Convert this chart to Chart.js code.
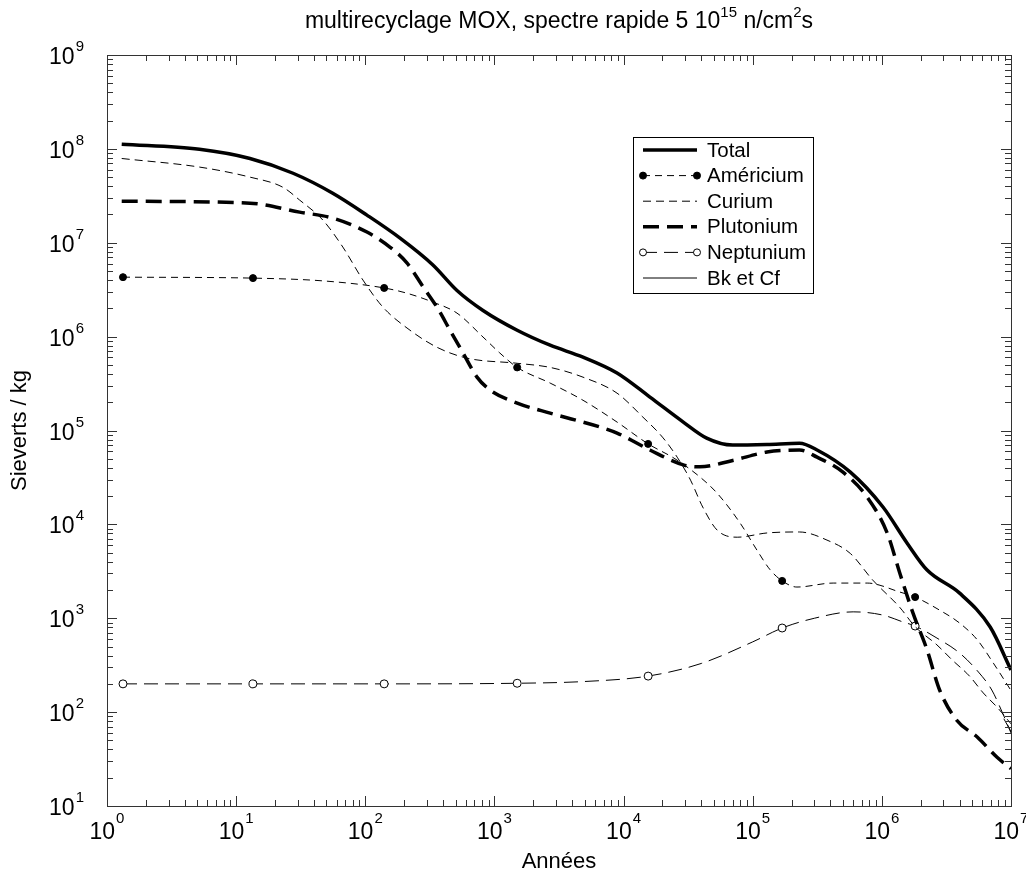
<!DOCTYPE html>
<html>
<head>
<meta charset="utf-8">
<script src="https://cdn.jsdelivr.net/npm/chart.js@4.4.1/dist/chart.umd.min.js"></script>
<style>
  html, body { margin: 0; padding: 0; background: #fff; }
  #wrap { position: relative; width: 1026px; height: 878px; }
</style>
</head>
<body>
<div id="wrap"><canvas id="chart"></canvas></div>
<script>
// values: years -> Sieverts / kg
const totalYears = [1.3, 5.2, 12.8, 27.6, 56, 103, 186, 334, 513, 816, 1500, 2700, 4850, 8900, 16000, 29000, 44000, 70000, 129000, 230000, 315000, 570000, 1020000, 1570000, 2240000, 4000000, 6900000, 1e7];
const totalSv = [1.12e8, 9.9e7, 7.9e7, 5.5e7, 3.37e7, 1.97e7, 1.12e7, 5.8e6, 3.1e6, 1.9e6, 1.17e6, 8.1e5, 6.05e5, 4.1e5, 2.27e5, 1.23e5, 8.3e4, 7.0e4, 7.1e4, 7.3e4, 6.2e4, 3.6e4, 1.53e4, 6.3e3, 3.26e3, 1.85e3, 806, 281];

const amYears = [1.33, 13.5, 50, 140, 210, 334, 513, 816, 1100, 1500, 2700, 4850, 8900, 15500, 25000, 39000, 53000, 80000, 108000, 136000, 169000, 220000, 420000, 770000, 1380000, 1810000, 2800000, 4000000, 5500000, 7300000, 1e7];
const amSv = [4.3e6, 4.2e6, 3.9e6, 3.3e6, 2.9e6, 2.33e6, 1.78e6, 9.9e5, 6.7e5, 4.7e5, 3.2e5, 2.1e5, 1.23e5, 7.2e4, 5e4, 3.2e4, 2.15e4, 1.03e4, 5.3e3, 3.3e3, 2.5e3, 2.15e3, 2.37e3, 2.37e3, 1.9e3, 1.68e3, 1.22e3, 889, 586, 333, 170];

const cmYears = [1.3, 5.2, 12.8, 23, 31, 47, 67, 96, 137, 222, 359, 614, 1500, 2700, 4850, 8900, 14100, 20000, 26000, 33000, 41000, 53000, 76000, 129000, 230000, 376000, 570000, 850000, 1380000, 1800000, 2670000, 3500000, 4800000, 6100000, 7800000, 1e7];
const cmSv = [7.9e7, 6.4e7, 5.0e7, 3.9e7, 2.85e7, 1.74e7, 9.0e6, 4.0e6, 2.06e6, 1.17e6, 7.7e5, 5.9e5, 5.2e5, 4.7e5, 3.7e5, 2.5e5, 1.39e5, 8.5e4, 5.2e4, 2.96e4, 1.53e4, 8.7e3, 7.3e3, 8.1e3, 8.3e3, 6.8e3, 4.9e3, 2.55e3, 1.3e3, 820, 520, 360, 240, 160, 113, 75];

const puYears = [1.3, 12.8, 31, 56, 103, 155, 210, 280, 359, 453, 571, 733, 925, 1500, 2700, 6560, 8900, 16000, 29000, 39000, 70000, 129000, 230000, 315000, 500000, 770000, 1100000, 1380000, 1740000, 2240000, 2800000, 3800000, 5500000, 7800000, 1e7];
const puSv = [2.77e7, 2.64e7, 2.12e7, 1.83e7, 1.3e7, 9.0e6, 6.1e6, 3.4e6, 2.06e6, 1.17e6, 6.7e5, 3.7e5, 2.7e5, 1.96e5, 1.53e5, 1.09e5, 9.4e4, 6.2e4, 4.3e4, 4.1e4, 4.8e4, 5.9e4, 6.2e4, 5.2e4, 3.6e4, 1.95e4, 8.1e3, 3.0e3, 1.14e3, 459, 172, 82, 54, 33, 25];

const npYears = [1.33, 13.5, 140, 1500, 5000, 15500, 40000, 100000, 169000, 300000, 600000, 1020000, 1460000, 1810000, 2670000, 4000000, 5600000, 7100000, 8600000, 1e7];
const npSv = [200, 200, 200, 203, 212, 242, 330, 560, 787, 1000, 1170, 1080, 912, 826, 615, 426, 267, 172, 98, 60];

const bkYears = [8.8e6, 1e7];
const bkSv = [85, 62];

// years where Am / Np markers sit
const markerYears = [1.33, 13.5, 140, 1500, 15500, 169000, 1810000];

const xDecades = [0, 1, 2, 3, 4, 5, 6, 7];
const yDecades = [1, 2, 3, 4, 5, 6, 7, 8, 9];

const FONT = '"Liberation Sans", Arial, Helvetica, sans-serif';

function toPoints(xs, ys) {
    return xs.map((x, i) => ({ x: x, y: ys[i] }));
}

function markerSize(r) {
    return ctx => (ctx.raw && markerYears.includes(ctx.raw.x)) ? r : 0;
}

// "10" with a raised exponent
function drawPow(c, exp, x, baseY, supY, align) {
    c.font = '23px ' + FONT;
    const w1 = c.measureText('10').width;
    c.font = '15px ' + FONT;
    const w2 = c.measureText(exp).width;
    const total = w1 + 1 + w2;
    const x0 = align === 'center' ? x - total / 2 : x - total;
    c.textAlign = 'left';
    c.textBaseline = 'alphabetic';
    c.font = '23px ' + FONT;
    c.fillText('10', x0, baseY);
    c.font = '15px ' + FONT;
    c.fillText(exp, x0 + w1 + 1, supY);
}

const framePlugin = {
    id: 'frame',
    beforeDraw(chart) {
        const c = chart.ctx;
        c.save();
        c.fillStyle = '#fff';
        c.fillRect(0, 0, chart.width, chart.height);
        c.restore();
    },
    afterDraw(chart) {
        const c = chart.ctx;
        const a = chart.chartArea;
        const xs = chart.scales.x;
        const ys = chart.scales.y;
        c.save();

        // box
        c.strokeStyle = '#333';
        c.lineWidth = 1;
        c.strokeRect(a.left + 0.5, a.top + 0.5, a.right - a.left, a.bottom - a.top);

        // inward ticks on all four sides
        c.beginPath();
        xDecades.forEach(d => {
            for (let m = 1; m <= 9; m++) {
                if (d === xDecades[xDecades.length - 1] && m > 1) break;
                const px = Math.round(xs.getPixelForValue(m * Math.pow(10, d))) + 0.5;
                const len = m === 1 ? 10 : 6;
                c.moveTo(px, a.bottom); c.lineTo(px, a.bottom - len);
                c.moveTo(px, a.top); c.lineTo(px, a.top + len);
            }
        });
        yDecades.forEach(d => {
            for (let m = 1; m <= 9; m++) {
                if (d === yDecades[yDecades.length - 1] && m > 1) break;
                const py = Math.round(ys.getPixelForValue(m * Math.pow(10, d))) + 0.5;
                const len = m === 1 ? 10 : 6;
                c.moveTo(a.left, py); c.lineTo(a.left + len, py);
                c.moveTo(a.right, py); c.lineTo(a.right - len, py);
            }
        });
        c.stroke();

        // tick labels
        c.fillStyle = '#000';
        xDecades.forEach(d => {
            const px = xs.getPixelForValue(Math.pow(10, d));
            drawPow(c, String(d), px, a.bottom + 33, a.bottom + 17, 'center');
        });
        yDecades.forEach(d => {
            const py = ys.getPixelForValue(Math.pow(10, d));
            drawPow(c, String(d), a.left - 23, py + 9, py - 4, 'right');
        });

        // title with superscripts
        const parts = [['multirecyclage MOX, spectre rapide 5 10', 0], ['15', 1], [' n/cm', 0], ['2', 1], ['s', 0]];
        let tw = 0;
        parts.forEach(p => {
            c.font = (p[1] ? '15px ' : '23px ') + FONT;
            tw += c.measureText(p[0]).width;
        });
        let tx = (a.left + a.right) / 2 - tw / 2;
        c.textAlign = 'left';
        parts.forEach(p => {
            c.font = (p[1] ? '15px ' : '23px ') + FONT;
            c.fillText(p[0], tx, p[1] ? 17 : 28);
            tx += c.measureText(p[0]).width;
        });

        // axis titles
        c.font = '22px ' + FONT;
        c.textAlign = 'center';
        c.fillText('Années', (a.left + a.right) / 2, 868);
        c.save();
        c.translate(26, (a.top + a.bottom) / 2);
        c.rotate(-Math.PI / 2);
        c.fillText('Sieverts / kg', 0, 0);
        c.restore();

        // legend
        const lx = a.left + 526, ly = a.top + 82, lw = 180, lh = 156;
        c.fillStyle = '#fff';
        c.fillRect(lx, ly, lw, lh);
        c.strokeStyle = '#000';
        c.lineWidth = 1;
        c.strokeRect(lx + 0.5, ly + 0.5, lw, lh);
        chart.data.datasets.forEach((ds, i) => {
            const y = ly + 13 + i * 25.6;
            const x1 = lx + 10, x2 = lx + 64;
            c.strokeStyle = '#000';
            c.lineWidth = ds.borderWidth;
            c.setLineDash(ds.borderDash || []);
            c.beginPath();
            c.moveTo(x1, y); c.lineTo(x2, y);
            c.stroke();
            c.setLineDash([]);
            if (ds.legendMarker) {
                [x1, x2].forEach(mx => {
                    c.beginPath();
                    c.arc(mx, y, ds.legendMarker, 0, Math.PI * 2);
                    c.fillStyle = ds.pointBackgroundColor;
                    c.fill();
                    c.lineWidth = 1;
                    c.stroke();
                });
            }
            c.fillStyle = '#000';
            c.font = '20.5px ' + FONT;
            c.textAlign = 'left';
            c.textBaseline = 'middle';
            c.fillText(ds.label, lx + 74, y + 1);
            c.textBaseline = 'alphabetic';
        });

        c.restore();
    }
};

const common = {
    borderColor: '#000',
    fill: false,
    cubicInterpolationMode: 'monotone',
    pointHoverRadius: 0
};

new Chart(document.getElementById('chart').getContext('2d'), {
    type: 'line',
    data: {
        datasets: [
            Object.assign({}, common, {
                label: 'Total', data: toPoints(totalYears, totalSv),
                borderWidth: 3.5, pointRadius: 0
            }),
            Object.assign({}, common, {
                label: 'Américium', data: toPoints(amYears, amSv),
                borderWidth: 1, borderDash: [7, 5],
                pointRadius: markerSize(3.5), pointBackgroundColor: '#000', pointBorderColor: '#000',
                legendMarker: 3.5
            }),
            Object.assign({}, common, {
                label: 'Curium', data: toPoints(cmYears, cmSv),
                borderWidth: 1, borderDash: [8, 5], pointRadius: 0
            }),
            Object.assign({}, common, {
                label: 'Plutonium', data: toPoints(puYears, puSv),
                borderWidth: 3.5, borderDash: [16, 8], pointRadius: 0
            }),
            Object.assign({}, common, {
                label: 'Neptunium', data: toPoints(npYears, npSv),
                borderWidth: 1, borderDash: [14, 7],
                pointRadius: markerSize(4), pointBackgroundColor: '#fff', pointBorderColor: '#000', pointBorderWidth: 1,
                legendMarker: 3.5
            }),
            Object.assign({}, common, {
                label: 'Bk et Cf', data: toPoints(bkYears, bkSv),
                borderWidth: 1, pointRadius: 0
            })
        ]
    },
    options: {
        responsive: true,
        maintainAspectRatio: false,
        animation: false,
        events: [],
        layout: { padding: { top: 55, right: 15, left: 0, bottom: 0 } },
        plugins: { legend: { display: false }, tooltip: { enabled: false }, title: { display: false } },
        scales: {
            x: {
                type: 'logarithmic', min: 1, max: 1e7,
                ticks: { display: false }, grid: { display: false }, border: { display: false },
                afterFit(s) { s.height = 72; }
            },
            y: {
                type: 'logarithmic', min: 10, max: 1e9,
                ticks: { display: false }, grid: { display: false }, border: { display: false },
                afterFit(s) { s.width = 107; }
            }
        }
    },
    plugins: [framePlugin]
});
</script>
</body>
</html>
